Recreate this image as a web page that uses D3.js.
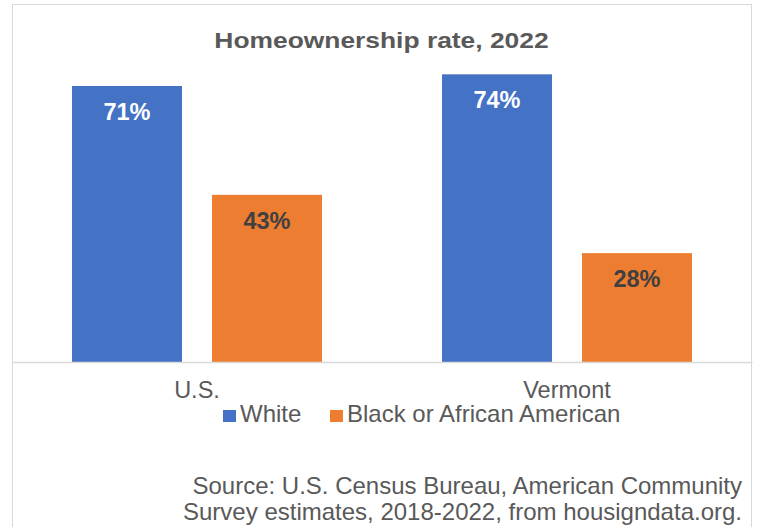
<!DOCTYPE html>
<html><head><meta charset="utf-8">
<script src="https://cdn.jsdelivr.net/npm/d3@7"></script>
<style>body{margin:0;background:#fff}svg{display:block;font-family:"Liberation Sans",Arial,sans-serif}</style>
</head><body><svg id="c" width="757" height="527"></svg>
<script>
const categories = ["U.S.", "Vermont"];
const seriesNames = ["White", "Black or African American"];
const whiteValues = [71, 74];
const blackValues = [43, 28];
const colors = ["#4472C4", "#ED7D31"];
const labelColors = ["#ffffff", "#404040"];
const title = "Homeownership rate, 2022";
const sourceLines = ["Source: U.S. Census Bureau, American Community", "Survey estimates, 2018-2022, from housigndata.org."];

const svg = d3.select("#c");
const data = categories.map((c, i) => ({cat: c, vals: [whiteValues[i], blackValues[i]]}));

svg.append("rect").attr("x", 12.5).attr("y", 4.5).attr("width", 739).attr("height", 540)
  .attr("fill", "#fff").attr("stroke", "#d9d9d9").attr("stroke-width", 1);

const x = d3.scaleBand().domain(categories).range([12, 752]);
const inner = d3.scaleBand().domain([0, 1]).range([60, 310]).paddingInner(30/140);
const y = d3.scaleLinear().domain([0, 80]).range([362, 51]);

svg.append("text").attr("transform", "translate(381.5,48) scale(1.2,1)").attr("text-anchor", "middle")
  .attr("font-size", 22).attr("font-weight", "bold").attr("fill", "#595959").text(title);

const g = svg.append("g");
data.forEach(d => {
  d.vals.forEach((v, j) => {
    const bx = x(d.cat) + inner(j);
    g.append("rect").attr("x", bx).attr("y", y(v)).attr("width", inner.bandwidth())
      .attr("height", y(0) - y(v)).attr("fill", colors[j]);
    g.append("text").attr("x", bx + inner.bandwidth()/2).attr("y", y(v) + 34)
      .attr("text-anchor", "middle").attr("font-size", 23.5).attr("font-weight", "bold")
      .attr("fill", labelColors[j]).text(v + "%");
  });
});

const axis = svg.append("g").attr("transform", "translate(0,362)")
  .call(d3.axisBottom(x).tickSize(0));
axis.select(".domain").attr("stroke", "#d9d9d9").attr("stroke-width", 1.5);
axis.selectAll(".tick text").attr("dy", null).attr("y", 36).attr("font-size", 23.5).attr("fill", "#595959")
  .attr("font-family", "Liberation Sans, Arial, sans-serif");

const leg = svg.append("g");
const legX = [223, 330];
seriesNames.forEach((n, j) => {
  leg.append("rect").attr("x", legX[j]).attr("y", 410).attr("width", 13).attr("height", 12).attr("fill", colors[j]);
  leg.append("text").attr("x", legX[j] + 17).attr("y", 422).attr("font-size", 24)
    .attr("fill", "#595959").text(n);
});

sourceLines.forEach((t, i) => {
  svg.append("text").attr("x", 742).attr("y", 493.5 + i * 26.5).attr("text-anchor", "end")
    .attr("font-size", 24).attr("fill", "#595959").text(t);
});
</script></body></html>
